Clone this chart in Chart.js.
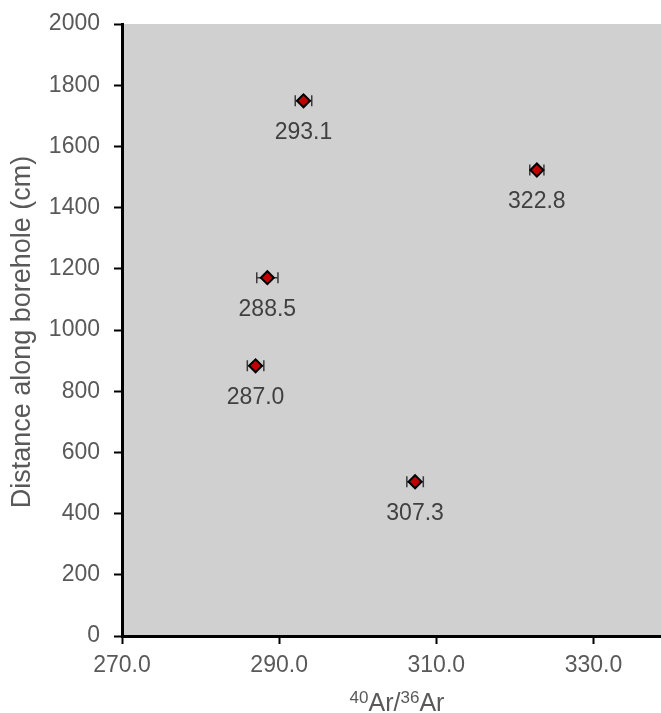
<!DOCTYPE html>
<html>
<head>
<meta charset="utf-8">
<script src="https://cdn.jsdelivr.net/npm/chart.js@4/dist/chart.umd.min.js"></script>
<style>
  html, body { margin: 0; padding: 0; background: #ffffff; }
  #wrap { width: 661px; height: 713px; }
</style>
</head>
<body>
<div id="wrap"><canvas id="chart" width="661" height="713"></canvas></div>
<script>
// Argon isotope ratio measured at each sampling depth
const ratios = [307.3, 287.0, 288.5, 322.8, 293.1];
const distances = [504, 883, 1171, 1523, 1749];
const ratioErrors = [1.05, 1.05, 1.35, 0.9, 1.05];

// Axis ticks
const xTicks = [270, 290, 310, 330];
const yTicks = [0, 200, 400, 600, 800, 1000, 1200, 1400, 1600, 1800, 2000];

const FONT = '"Liberation Sans", Arial, sans-serif';
const TICK_COLOR = '#595959';
const LABEL_COLOR = '#404040';

const points = ratios.map((r, i) => ({ x: r, y: distances[i] }));

const plotBackground = {
  id: 'plotBackground',
  beforeDraw(chart) {
    const { ctx, chartArea: a } = chart;
    ctx.save();
    ctx.fillStyle = '#d0d0d0';
    ctx.fillRect(a.left, a.top, a.right - a.left, a.bottom - a.top);
    ctx.restore();
  }
};

const errorBars = {
  id: 'errorBars',
  beforeDatasetsDraw(chart) {
    const { ctx } = chart;
    const xs = chart.scales.x, ys = chart.scales.y;
    ctx.save();
    ctx.strokeStyle = '#3a3a3a';
    ctx.lineWidth = 1.5;
    ratios.forEach((r, i) => {
      const y = ys.getPixelForValue(distances[i]);
      const x0 = xs.getPixelForValue(r - ratioErrors[i]);
      const x1 = xs.getPixelForValue(r + ratioErrors[i]);
      ctx.beginPath();
      ctx.moveTo(x0, y); ctx.lineTo(x1, y);
      ctx.moveTo(x0, y - 5.5); ctx.lineTo(x0, y + 5.5);
      ctx.moveTo(x1, y - 5.5); ctx.lineTo(x1, y + 5.5);
      ctx.stroke();
    });
    ctx.restore();
  }
};

const valueLabels = {
  id: 'valueLabels',
  afterDatasetsDraw(chart) {
    const { ctx } = chart;
    const xs = chart.scales.x, ys = chart.scales.y;
    ctx.save();
    ctx.font = '23px ' + FONT;
    ctx.fillStyle = LABEL_COLOR;
    ctx.textAlign = 'center';
    ctx.textBaseline = 'middle';
    ratios.forEach((r, i) => {
      const x = xs.getPixelForValue(r);
      const y = ys.getPixelForValue(distances[i]);
      ctx.fillText(r.toFixed(1), x, y + 32);
    });
    ctx.restore();
  }
};

const axisTitles = {
  id: 'axisTitles',
  afterDraw(chart) {
    const { ctx, chartArea: a } = chart;
    ctx.save();
    ctx.fillStyle = TICK_COLOR;

    // y title, rotated
    ctx.font = '27px ' + FONT;
    ctx.textAlign = 'center';
    ctx.textBaseline = 'middle';
    ctx.translate(23, 332);
    ctx.rotate(-Math.PI / 2);
    ctx.fillText('Distance along borehole (cm)', 0, 0);
    ctx.setTransform(1, 0, 0, 1, 0, 0);

    // x title with superscript mass numbers
    const parts = [
      { t: '40', sup: true }, { t: 'Ar/', sup: false },
      { t: '36', sup: true }, { t: 'Ar', sup: false }
    ];
    const big = '25px ' + FONT, small = '17px ' + FONT;
    let total = 0;
    parts.forEach(p => { ctx.font = p.sup ? small : big; p.w = ctx.measureText(p.t).width; total += p.w; });
    let x = 397 - total / 2;
    const base = 711;
    ctx.textAlign = 'left';
    ctx.textBaseline = 'alphabetic';
    parts.forEach(p => {
      ctx.font = p.sup ? small : big;
      ctx.fillText(p.t, x, p.sup ? base - 8 : base);
      x += p.w;
    });
    ctx.restore();
  }
};

new Chart(document.getElementById('chart'), {
  type: 'scatter',
  data: {
    datasets: [{
      data: points,
      pointStyle: 'rectRot',
      pointRadius: 6.5,
      pointHoverRadius: 6.5,
      backgroundColor: '#c00000',
      borderColor: '#000000',
      borderWidth: 2
    }]
  },
  options: {
    responsive: false,
    animation: false,
    devicePixelRatio: 1,
    events: [],
    layout: { autoPadding: false, padding: { top: 24, right: 0, left: 0, bottom: 0 } },
    plugins: { legend: { display: false }, tooltip: { enabled: false } },
    scales: {
      x: {
        type: 'linear',
        min: 270,
        max: 338.6,
        afterBuildTicks(scale) { scale.ticks = xTicks.map(v => ({ value: v })); },
        afterFit(scale) { scale.height = 77; scale.paddingLeft = 0; scale.paddingRight = 0; },
        border: { display: true, color: '#000000', width: 3 },
        grid: { drawOnChartArea: false, drawTicks: true, tickLength: 8, tickColor: '#000000', tickWidth: 2, color: '#000000' },
        ticks: {
          color: TICK_COLOR,
          font: { family: FONT, size: 23 },
          padding: 8,
          maxRotation: 0,
          callback: v => Number(v).toFixed(1)
        }
      },
      y: {
        type: 'linear',
        min: 0,
        max: 2000,
        afterBuildTicks(scale) { scale.ticks = yTicks.map(v => ({ value: v })); },
        afterFit(scale) { scale.width = 122; scale.paddingTop = 0; scale.paddingBottom = 0; },
        border: { display: true, color: '#000000', width: 3 },
        grid: { drawOnChartArea: false, drawTicks: true, tickLength: 8, tickColor: '#000000', tickWidth: 2, color: '#000000' },
        ticks: {
          color: TICK_COLOR,
          font: { family: FONT, size: 23 },
          padding: 14,
          callback: v => String(v)
        }
      }
    }
  },
  plugins: [plotBackground, errorBars, valueLabels, axisTitles]
});
</script>
</body>
</html>
